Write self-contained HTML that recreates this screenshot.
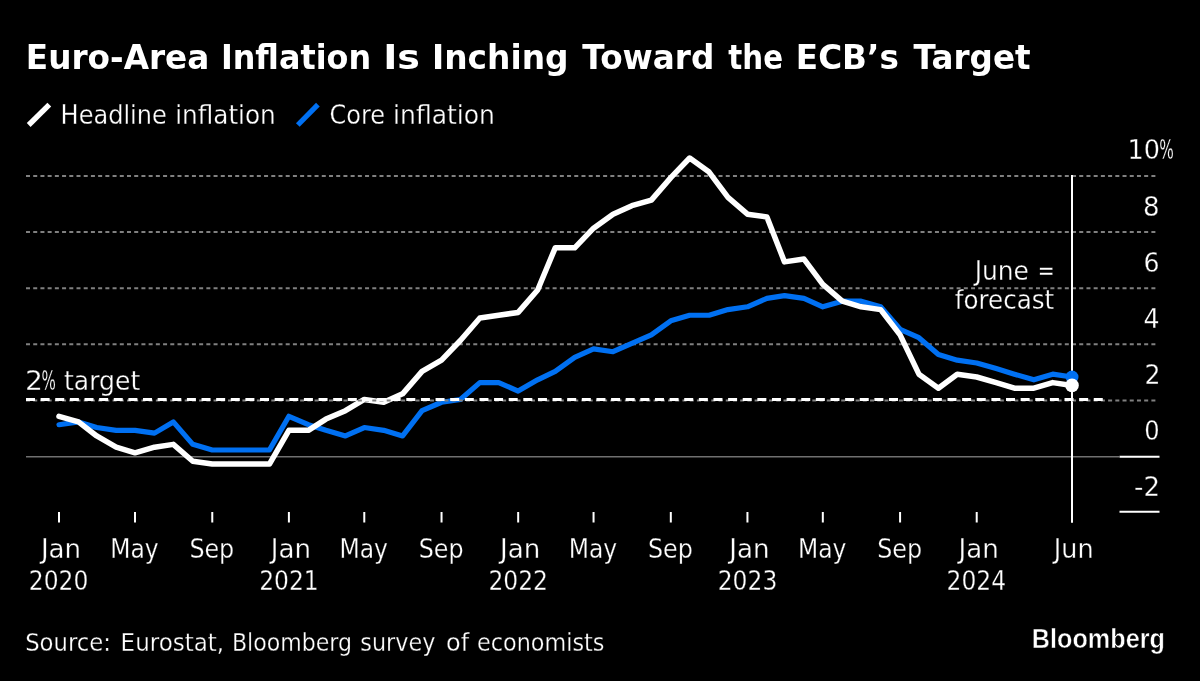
<!DOCTYPE html>
<html><head><meta charset="utf-8"><title>Euro-Area Inflation Is Inching Toward the ECB’s Target</title>
<style>html,body{margin:0;padding:0;background:#000;width:1200px;height:681px;overflow:hidden}svg{display:block}</style>
</head><body>
<svg width="1200" height="681" viewBox="0 0 1200 681">
<style>
.t{font-family:'DejaVu Sans','Liberation Sans',sans-serif;font-size:26px;fill:#fff;stroke:#000;stroke-width:0.3px}
.s{font-family:'DejaVu Sans','Liberation Sans',sans-serif;font-size:24.5px;fill:#fff;stroke:#000;stroke-width:0.3px}
.b{font-family:'DejaVu Sans','Liberation Sans',sans-serif;font-size:33.3px;font-weight:bold;fill:#fff}
.bb{font-family:'Liberation Sans',sans-serif;font-size:28.2px;font-weight:bold;fill:#fff;stroke:#000;stroke-width:0.5px}
</style>
<rect width="1200" height="681" fill="#000"/>
<line x1="28.7" y1="125" x2="49.3" y2="104.7" stroke="#fff" stroke-width="5.4"/>
<line x1="297.8" y1="125" x2="317.9" y2="104.7" stroke="#0070f2" stroke-width="5.2"/>
<line x1="26" x2="1157" y1="175.90" y2="175.90" stroke="#808080" stroke-width="2" stroke-dasharray="4 3.214"/>
<line x1="26" x2="1157" y1="232.05" y2="232.05" stroke="#808080" stroke-width="2" stroke-dasharray="4 3.214"/>
<line x1="26" x2="1157" y1="288.20" y2="288.20" stroke="#808080" stroke-width="2" stroke-dasharray="4 3.214"/>
<line x1="26" x2="1157" y1="344.35" y2="344.35" stroke="#808080" stroke-width="2" stroke-dasharray="4 3.214"/>
<line x1="26" x2="1119" y1="456.65" y2="456.65" stroke="#707070" stroke-width="1.5"/>
<line x1="1119.5" x2="1159.5" y1="456.65" y2="456.65" stroke="#fff" stroke-width="2"/>
<line x1="1119.5" x2="1159.5" y1="511.80" y2="511.80" stroke="#fff" stroke-width="2"/>
<line x1="1072.00" x2="1072.00" y1="175" y2="522.5" stroke="#fff" stroke-width="2"/>
<line x1="59.00" x2="59.00" y1="512" y2="522.5" stroke="#fff" stroke-width="2"/>
<line x1="135.00" x2="135.00" y1="512" y2="522.5" stroke="#fff" stroke-width="2"/>
<line x1="212.27" x2="212.27" y1="512" y2="522.5" stroke="#fff" stroke-width="2"/>
<line x1="288.90" x2="288.90" y1="512" y2="522.5" stroke="#fff" stroke-width="2"/>
<line x1="364.28" x2="364.28" y1="512" y2="522.5" stroke="#fff" stroke-width="2"/>
<line x1="441.54" x2="441.54" y1="512" y2="522.5" stroke="#fff" stroke-width="2"/>
<line x1="518.17" x2="518.17" y1="512" y2="522.5" stroke="#fff" stroke-width="2"/>
<line x1="593.55" x2="593.55" y1="512" y2="522.5" stroke="#fff" stroke-width="2"/>
<line x1="670.81" x2="670.81" y1="512" y2="522.5" stroke="#fff" stroke-width="2"/>
<line x1="747.44" x2="747.44" y1="512" y2="522.5" stroke="#fff" stroke-width="2"/>
<line x1="822.82" x2="822.82" y1="512" y2="522.5" stroke="#fff" stroke-width="2"/>
<line x1="900.08" x2="900.08" y1="512" y2="522.5" stroke="#fff" stroke-width="2"/>
<line x1="976.71" x2="976.71" y1="512" y2="522.5" stroke="#fff" stroke-width="2"/>
<line x1="1072.00" x2="1072.00" y1="512" y2="522.5" stroke="#fff" stroke-width="2"/>
<polyline points="59.00,424.72 78.47,421.91 96.69,427.53 116.16,430.33 135.00,430.33 154.48,433.14 173.32,421.91 192.79,444.37 212.27,449.99 231.11,449.99 250.58,449.99 269.43,449.99 288.90,416.30 308.37,424.72 325.96,430.33 345.43,435.95 364.28,427.53 383.75,430.33 402.59,435.95 422.06,410.68 441.54,402.26 460.38,399.45 479.85,382.61 498.70,382.61 518.17,391.03 537.64,379.80 555.23,371.38 574.70,357.34 593.55,348.92 613.02,351.72 631.86,343.30 651.34,334.88 670.81,320.84 689.65,315.23 709.12,315.23 727.97,309.61 747.44,306.80 766.91,298.38 784.50,295.57 803.97,298.38 822.82,306.80 842.29,301.19 861.13,301.19 880.61,306.80 900.08,329.26 918.92,337.69 938.40,354.53 957.24,360.15 976.71,362.95 996.18,368.57 1014.40,374.18 1033.87,379.80 1052.72,374.18 1072.00,376.99" fill="none" stroke="#0070f2" stroke-width="5.2" stroke-linejoin="round" stroke-linecap="round"/>
<polyline points="59.00,416.30 78.47,421.91 96.69,435.95 116.16,447.18 135.00,452.79 154.48,447.18 173.32,444.37 192.79,461.22 212.27,464.02 231.11,464.02 250.58,464.02 269.43,464.02 288.90,430.33 308.37,430.33 325.96,419.10 345.43,410.68 364.28,399.45 383.75,402.26 402.59,393.84 422.06,371.38 441.54,360.15 460.38,340.49 479.85,318.03 498.70,315.23 518.17,312.42 537.64,289.96 555.23,247.85 574.70,247.85 593.55,228.19 613.02,214.16 631.86,205.73 651.34,200.12 670.81,177.66 689.65,158.01 709.12,172.04 727.97,197.31 747.44,214.16 766.91,216.96 784.50,261.88 803.97,259.08 822.82,284.34 842.29,301.19 861.13,306.80 880.61,309.61 900.08,334.88 918.92,374.18 938.40,388.22 957.24,374.18 976.71,376.99 996.18,382.61 1014.40,388.22 1033.87,388.22 1052.72,382.61 1072.00,385.41" fill="none" stroke="#fff" stroke-width="5.5" stroke-linejoin="round" stroke-linecap="round"/>
<circle cx="1072.00" cy="376.99" r="6.5" fill="#0070f2"/>
<circle cx="1072.00" cy="385.41" r="6.8" fill="#fff"/>
<line x1="26" x2="1157" y1="400.50" y2="400.50" stroke="#808080" stroke-width="2" stroke-dasharray="4 3.214"/>
<line x1="26" x2="1103" y1="399.6" y2="399.6" stroke="#fff" stroke-width="3" stroke-dasharray="9 5.627"/>
<text class="t" transform="translate(40.91 558.20) scale(1.0050 1)">Jan</text>
<text class="t" transform="translate(28.85 590.00) scale(0.9000 1)">2020</text>
<text class="t" transform="translate(110.20 558.20) scale(0.9020 1)">May</text>
<text class="t" transform="translate(189.39 558.20) scale(0.9152 1)">Sep</text>
<text class="t" transform="translate(270.81 558.20) scale(1.0050 1)">Jan</text>
<text class="t" transform="translate(259.20 590.00) scale(0.9000 1)">2021</text>
<text class="t" transform="translate(339.47 558.20) scale(0.9020 1)">May</text>
<text class="t" transform="translate(418.66 558.20) scale(0.9152 1)">Sep</text>
<text class="t" transform="translate(500.08 558.20) scale(1.0050 1)">Jan</text>
<text class="t" transform="translate(488.47 590.00) scale(0.9000 1)">2022</text>
<text class="t" transform="translate(568.74 558.20) scale(0.9020 1)">May</text>
<text class="t" transform="translate(647.93 558.20) scale(0.9152 1)">Sep</text>
<text class="t" transform="translate(729.35 558.20) scale(1.0050 1)">Jan</text>
<text class="t" transform="translate(717.74 590.00) scale(0.9000 1)">2023</text>
<text class="t" transform="translate(798.01 558.20) scale(0.9020 1)">May</text>
<text class="t" transform="translate(877.20 558.20) scale(0.9152 1)">Sep</text>
<text class="t" transform="translate(958.62 558.20) scale(1.0050 1)">Jan</text>
<text class="t" transform="translate(946.56 590.00) scale(0.9000 1)">2024</text>
<text class="t" transform="translate(1053.86 558.20) scale(0.9805 1)">Jun</text>
<text class="t" transform="translate(1143.10 215.55) scale(1.0000 1)">8</text>
<text class="t" transform="translate(1143.55 271.70) scale(0.9700 1)">6</text>
<text class="t" transform="translate(1143.55 327.85) scale(0.9700 1)">4</text>
<text class="t" transform="translate(1144.52 384.00) scale(0.9700 1)">2</text>
<text class="t" transform="translate(1144.15 440.15) scale(0.9300 1)">0</text>
<text class="t" transform="translate(1134.10 496.30) scale(1.0000 1)">-2</text>
<text class="t" y="159.40"><tspan x="1127.55" textLength="32.5" lengthAdjust="spacingAndGlyphs">10</tspan><tspan x="1159.3" textLength="14.6" lengthAdjust="spacingAndGlyphs">%</tspan></text>
<text class="b" y="68.5"><tspan x="25.85" textLength="183.51" lengthAdjust="spacingAndGlyphs">Euro-Area</tspan> <tspan x="220.88" textLength="150.18" lengthAdjust="spacingAndGlyphs">Inflation</tspan> <tspan x="383.17" textLength="36.82" lengthAdjust="spacingAndGlyphs">Is</tspan> <tspan x="431.94" textLength="136.63" lengthAdjust="spacingAndGlyphs">Inching</tspan> <tspan x="582.20" textLength="132.21" lengthAdjust="spacingAndGlyphs">Toward</tspan> <tspan x="728.30" textLength="54.77" lengthAdjust="spacingAndGlyphs">the</tspan> <tspan x="795.86" textLength="102.95" lengthAdjust="spacingAndGlyphs">ECB’s</tspan> <tspan x="913.50" textLength="117.14" lengthAdjust="spacingAndGlyphs">Target</tspan></text>
<text class="t" y="123.7"><tspan x="60.55" textLength="106.29" lengthAdjust="spacingAndGlyphs">Headline</tspan> <tspan x="175.20" textLength="100.54" lengthAdjust="spacingAndGlyphs">inflation</tspan></text>
<text class="t" y="123.7"><tspan x="329.58" textLength="55.52" lengthAdjust="spacingAndGlyphs">Core</tspan> <tspan x="393.07" textLength="101.89" lengthAdjust="spacingAndGlyphs">inflation</tspan></text>
<text class="t" y="280"><tspan x="974.71" textLength="54.18" lengthAdjust="spacingAndGlyphs">June</tspan> <tspan x="1037.77" textLength="16.89" lengthAdjust="spacingAndGlyphs">=</tspan></text>
<text class="t" transform="translate(954.80 309.10) scale(0.9448 1)">forecast</text>
<text class="t" y="390.3"><tspan x="24.93" textLength="17.93" lengthAdjust="spacingAndGlyphs">2</tspan><tspan x="41.42" textLength="14.38" lengthAdjust="spacingAndGlyphs">%</tspan> <tspan x="64.04" textLength="76.18" lengthAdjust="spacingAndGlyphs">target</tspan></text>
<text class="s" y="651.2"><tspan x="25.14" textLength="85.84" lengthAdjust="spacingAndGlyphs">Source:</tspan> <tspan x="120.62" textLength="103.55" lengthAdjust="spacingAndGlyphs">Eurostat,</tspan> <tspan x="231.95" textLength="120.11" lengthAdjust="spacingAndGlyphs">Bloomberg</tspan> <tspan x="360.34" textLength="75.06" lengthAdjust="spacingAndGlyphs">survey</tspan> <tspan x="446.02" textLength="23.11" lengthAdjust="spacingAndGlyphs">of</tspan> <tspan x="477.09" textLength="127.29" lengthAdjust="spacingAndGlyphs">economists</tspan></text>
<text class="bb" transform="translate(1031.81 647.70) scale(0.8945 1)">Bloomberg</text>
</svg>
</body></html>
